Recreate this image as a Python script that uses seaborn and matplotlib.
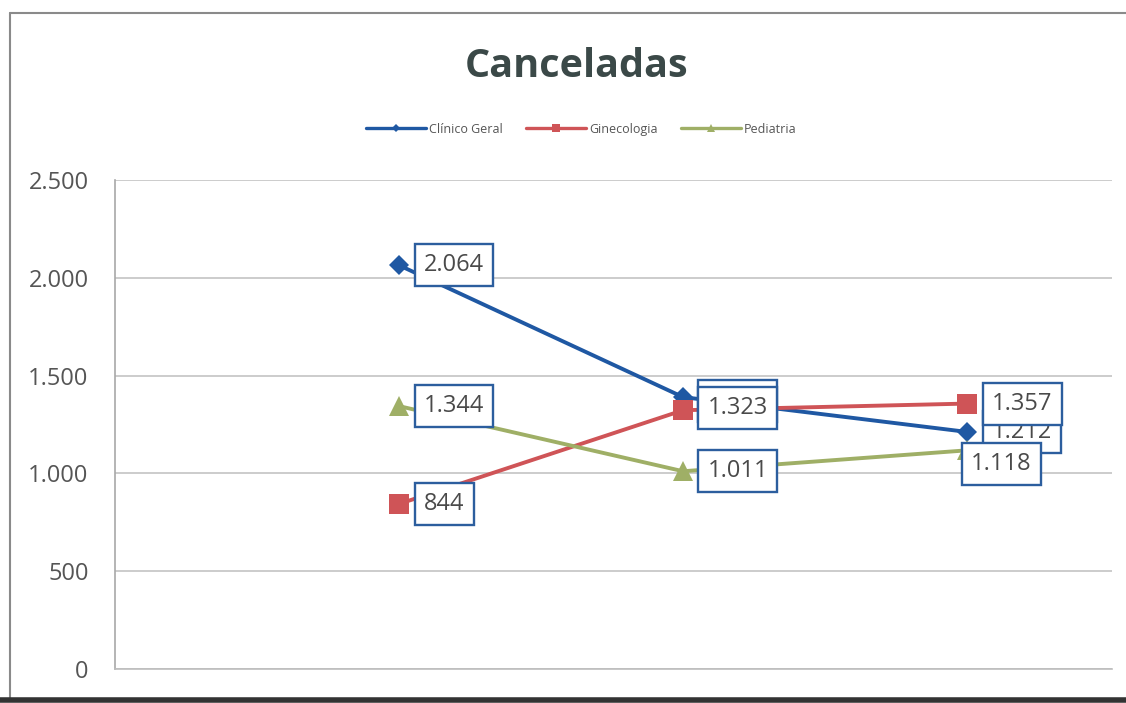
import matplotlib
matplotlib.use("Agg")
import matplotlib.pyplot as plt
from matplotlib.lines import Line2D
import seaborn as sns
import pandas as pd

# Dados: consultas canceladas por especialidade em três períodos
periodos = [0, 1, 2]
series = ["Clínico Geral", "Ginecologia", "Pediatria"]
clinico_geral = [2064, 1390, 1212]
ginecologia = [844, 1323, 1357]
pediatria = [1344, 1011, 1118]
y_ticks = [0, 500, 1000, 1500, 2000, 2500]

cores = {"Clínico Geral": "#1F58A3", "Ginecologia": "#CF5457", "Pediatria": "#9FAF66"}
marcadores = {"Clínico Geral": "D", "Ginecologia": "s", "Pediatria": "^"}
tamanhos = {"Clínico Geral": 10.5, "Ginecologia": 15, "Pediatria": 15}

df = pd.DataFrame({
    "periodo": periodos * 3,
    "valor": clinico_geral + ginecologia + pediatria,
    "serie": [s for s in series for _ in periodos],
})

sns.set_theme(style="white")
plt.rcParams["font.family"] = ["Open Sans", "DejaVu Sans"]

fig = plt.figure(figsize=(11.26, 7.03), dpi=100)
ax = fig.add_axes([115 / 1126, 1 - 669 / 703, (1112 - 115) / 1126, (669 - 180) / 703])

for s in series:
    sub = df[df["serie"] == s]
    sns.lineplot(data=sub, x="periodo", y="valor", ax=ax, color=cores[s],
                 marker=marcadores[s], markersize=tamanhos[s], markeredgewidth=0,
                 linewidth=2.8, legend=False, zorder=3)

ax.set_xlim(-1.0, 2.51)
ax.set_ylim(0, 2500)
ax.set_yticks(y_ticks)
ax.set_yticklabels([f"{v:,.0f}".replace(",", ".") for v in y_ticks])
ax.set_xticks([])
ax.set_xlabel("")
ax.set_ylabel("")
ax.tick_params(axis="y", length=0, pad=19, labelsize=17, labelcolor="#555555")
ax.grid(axis="y", color="#C4C4C4", linewidth=1.2)
ax.set_axisbelow(True)
for lado in ["top", "right"]:
    ax.spines[lado].set_visible(False)
ax.spines["left"].set_color("#A8A8A8")
ax.spines["bottom"].set_color("#BDBDBD")
ax.spines["left"].set_linewidth(1.2)
ax.spines["bottom"].set_linewidth(1.2)


def fmt(v):
    return f"{v:,.0f}".replace(",", ".")


# Rótulos de dados com caixa; deslocamentos em pontos a partir de cada marcador
deslocamentos = {
    "Clínico Geral": [(18, 0), (17.5, -3), (18, 0)],
    "Ginecologia": [(18, 0), (17.5, 1.5), (18, 0)],
    "Pediatria": [(18, 0), (17.5, 0), (3, -10)],
}
valores = {"Clínico Geral": clinico_geral, "Ginecologia": ginecologia, "Pediatria": pediatria}
z = 5
for s in series:
    for x, v, (dx, dy) in zip(periodos, valores[s], deslocamentos[s]):
        ax.annotate(fmt(v), xy=(x, v), xytext=(dx, dy), textcoords="offset points",
                    ha="left", va="center", fontsize=17, color="#4A4A4A",
                    bbox=dict(boxstyle="square,pad=0.38", fc="white", ec="#2C5E9E", lw=1.7),
                    zorder=z, annotation_clip=False)
        z += 1

# Legenda
handles = [Line2D([0], [0], color=cores[s], lw=2.4, marker=marcadores[s],
                  markersize=tamanhos[s] * 0.42, markeredgewidth=0) for s in series]
fig.legend(handles, series, loc="center", bbox_to_anchor=(0.516, 0.8165), ncol=3,
           frameon=False, fontsize=9, handlelength=4.8, handletextpad=0.25,
           columnspacing=1.85, labelcolor="#555555")

fig.text(0.512, 0.905, "Canceladas", ha="center", va="center", fontsize=28.5,
         fontweight="bold", color="#3B4948")

# Moldura do gráfico
fig.add_artist(Line2D([10 / 1126, 1.0], [1 - 13 / 703, 1 - 13 / 703],
                      transform=fig.transFigure, color="#8A8A8A", lw=1.5))
fig.add_artist(Line2D([10 / 1126, 10 / 1126], [1 - 13 / 703, 1 - 699 / 703],
                      transform=fig.transFigure, color="#8A8A8A", lw=1.5))
fig.add_artist(Line2D([0, 1.0], [1 - 700 / 703, 1 - 700 / 703],
                      transform=fig.transFigure, color="#333333", lw=4))

fig.savefig("out.png", dpi=100, facecolor="white")
